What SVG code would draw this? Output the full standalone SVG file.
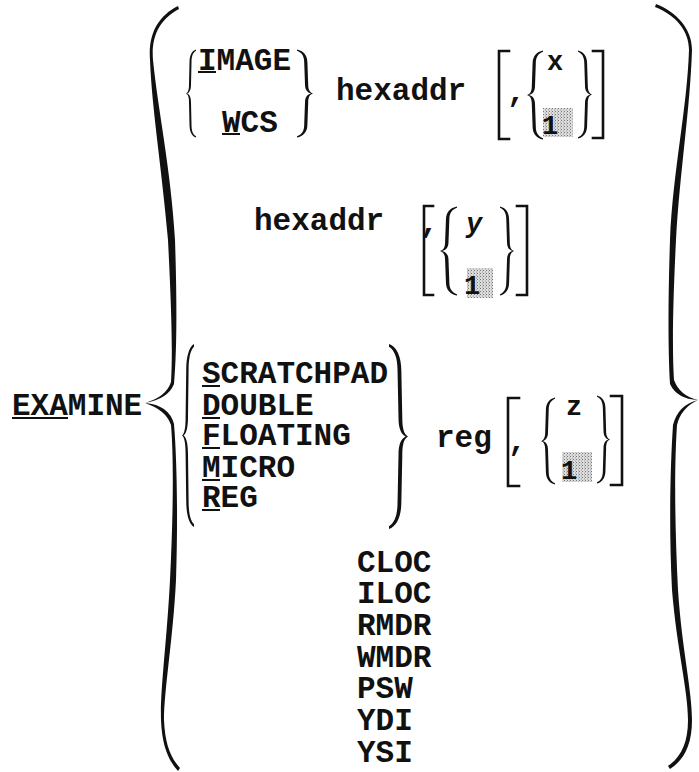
<svg xmlns="http://www.w3.org/2000/svg" xmlns:xlink="http://www.w3.org/1999/xlink" width="699" height="772" viewBox="0 0 699 772">
  <style>
    .t { font-family: "Liberation Mono", "Courier New", monospace; font-size: 31px; font-weight: bold; fill: #111; }
    .v { font-family: "Liberation Mono", "Courier New", monospace; font-size: 27px; font-weight: bold; fill: #111; }
    .br { fill: none; stroke: #111; stroke-width: 2.6; stroke-linecap: square; }
    .ul { stroke: #111; stroke-width: 2; }
    .ink { fill: #111; }
  </style>
  <defs>
    <!-- curly brace outline in a 20 x 100 box, tip pointing left -->
    <path id="bracePath" d="M20,0.5 C12,2 7,7 7,15 L6,40 C6,46 4,49 0,50 C4,51 6,54 6,60 L7,85 C7,93 12,98 20,99.5 L20,98 C14,96 11,92 11,85 L10,60 C10,54 7,51 2.5,50 C7,49 10,46 10,40 L11,15 C11,8 14,4 20,2 Z"/>
    <symbol id="lb" viewBox="0 0 20 100" preserveAspectRatio="none">
      <use xlink:href="#bracePath" href="#bracePath" class="ink"/>
    </symbol>
    <symbol id="rb" viewBox="0 0 20 100" preserveAspectRatio="none">
      <use xlink:href="#bracePath" href="#bracePath" class="ink" transform="matrix(-1 0 0 1 20 0)"/>
    </symbol>
    <!-- stippled shading behind the default value -->
    <pattern id="stipple" width="3" height="3" patternUnits="userSpaceOnUse">
      <rect width="3" height="3" fill="#dcdcdc"/>
      <rect x="0" y="0" width="1" height="1" fill="#777"/>
      <rect x="2" y="1.5" width="1" height="1" fill="#999"/>
    </pattern>
  </defs>

  <!-- outer braces enclosing every alternative -->
  <g id="outer-left-brace" class="ink">
    <path d="M178,6 C158,16 148,34 150,60 C152,110 162,170 168,240 C171,300 173,350 171,382 Q166,397 145,403 Q168,399 174,384 C177,350 177,300 175,240 C171,170 158,110 153,60 C151,36 160,19 179,9 Z"/>
    <path d="M145,403 Q166,410 171,425 C174,460 173,520 170,580 C167,640 160,690 161,720 C162,745 168,760 178,771 L180,768 C170,757 165,743 164,720 C164,690 173,640 176,580 C178,520 177,460 174,424 Q169,405 145,403 Z"/>
  </g>
  <g id="outer-right-brace" class="ink">
    <path d="M656,4 C676,12 692,28 692,50 C690,110 680,170 676,240 C673,300 672,350 674,380 Q680,396 698,400 Q677,399 670,384 C668,350 668,300 670,240 C673,170 687,110 689,50 C689,30 675,15 655,7 Z"/>
    <path d="M698,400 Q681,408 677,425 C674,470 675,530 678,590 C682,650 692,690 692,720 C692,745 684,760 670,769 L668,766 C681,757 688,743 688,720 C688,690 677,650 672,590 C669,530 670,470 673,425 Q678,405 698,400 Z"/>
  </g>

  <!-- command name -->
  <g id="examine">
    <text class="t" x="12" y="415">EXAMINE</text>
    <line class="ul" x1="12" y1="418" x2="68" y2="418"/>
  </g>

  <!-- first alternative: IMAGE / WCS hexaddr [,x] -->
  <g id="image-wcs">
    <use href="#lb" xlink:href="#lb" x="186" y="49" width="10" height="89"/>
    <text class="t" x="198" y="70">IMAGE</text>
    <line class="ul" x1="198" y1="72" x2="216" y2="72"/>
    <text class="t" x="222" y="132">WCS</text>
    <line class="ul" x1="222" y1="134" x2="240" y2="134"/>
    <use href="#rb" xlink:href="#rb" x="297" y="49" width="16" height="89"/>
  </g>
  <g id="hexaddr-1">
    <text class="t" x="336" y="100">hexaddr</text>
  </g>
  <g id="opt-x">
    <path class="br" d="M509,51 L499,51 L499,139 L509,139"/>
    <text class="t" x="507" y="101">,</text>
    <use href="#lb" xlink:href="#lb" x="527" y="50" width="16" height="90"/>
    <text class="v" x="547" y="70">x</text>
    <rect x="543" y="108" width="30" height="29" fill="url(#stipple)"/>
    <text class="v" x="542" y="134">1</text>
    <use href="#rb" xlink:href="#rb" x="578" y="50" width="14" height="89"/>
    <path class="br" d="M593,51 L603,51 L603,138 L593,138"/>
  </g>

  <!-- second alternative: hexaddr [,y] -->
  <g id="hexaddr-2">
    <text class="t" x="254" y="230">hexaddr</text>
  </g>
  <g id="opt-y">
    <path class="br" d="M433,206 L424,206 L424,295 L433,295"/>
    <text class="t" x="420" y="232">,</text>
    <use href="#lb" xlink:href="#lb" x="440" y="206" width="17" height="90"/>
    <text class="v" x="466" y="232" font-style="italic">y</text>
    <rect x="467" y="268" width="26" height="30" fill="url(#stipple)"/>
    <text class="v" x="464" y="294">1</text>
    <use href="#rb" xlink:href="#rb" x="500" y="206" width="14" height="90"/>
    <path class="br" d="M517,206 L527,206 L527,295 L517,295"/>
  </g>

  <!-- third alternative: register file reg [,z] -->
  <g id="register-files">
    <use href="#lb" xlink:href="#lb" x="182" y="343" width="12" height="185"/>
    <text class="t" x="202" y="383">SCRATCHPAD</text>
    <line class="ul" x1="202" y1="386" x2="220" y2="386"/>
    <text class="t" x="202" y="415">DOUBLE</text>
    <line class="ul" x1="202" y1="418" x2="220" y2="418"/>
    <text class="t" x="202" y="445">FLOATING</text>
    <line class="ul" x1="202" y1="448" x2="220" y2="448"/>
    <text class="t" x="202" y="477">MICRO</text>
    <line class="ul" x1="202" y1="480" x2="220" y2="480"/>
    <text class="t" x="202" y="507">REG</text>
    <line class="ul" x1="202" y1="510" x2="220" y2="510"/>
    <use href="#rb" xlink:href="#rb" x="389" y="343" width="19" height="187"/>
  </g>
  <g id="reg">
    <text class="t" x="436" y="447">reg</text>
  </g>
  <g id="opt-z">
    <path class="br" d="M519,398 L508,398 L508,486 L519,486"/>
    <text class="t" x="508" y="450">,</text>
    <use href="#lb" xlink:href="#lb" x="541" y="397" width="14" height="88"/>
    <text class="v" x="566" y="415">z</text>
    <rect x="562" y="452" width="30" height="30" fill="url(#stipple)"/>
    <text class="v" x="561" y="479">1</text>
    <use href="#rb" xlink:href="#rb" x="597" y="395" width="13" height="89"/>
    <path class="br" d="M611,396 L622,396 L622,485 L611,485"/>
  </g>

  <!-- remaining single registers -->
  <g id="single-registers">
    <text class="t" x="357" y="572">CLOC</text>
    <text class="t" x="357" y="603">ILOC</text>
    <text class="t" x="357" y="635">RMDR</text>
    <text class="t" x="357" y="667">WMDR</text>
    <text class="t" x="357" y="698">PSW</text>
    <text class="t" x="357" y="730">YDI</text>
    <text class="t" x="357" y="762">YSI</text>
  </g>
</svg>
